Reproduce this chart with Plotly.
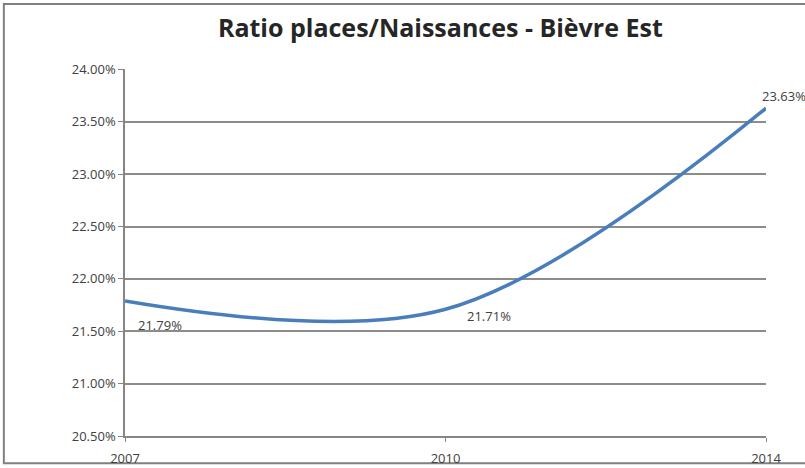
import plotly.graph_objects as go

years = ["2007", "2010", "2014"]
ratios = [21.79, 21.71, 23.63]
labels = ["21.79%", "21.71%", "23.63%"]
y_ticks = [20.5, 21.0, 21.5, 22.0, 22.5, 23.0, 23.5, 24.0]

FONT = "Open Sans, Liberation Sans, sans-serif"

fig = go.Figure()
fig.add_trace(go.Scatter(
    x=years, y=ratios, mode="lines",
    line=dict(color="#4A7EBB", width=3.5, shape="spline", smoothing=1.0),
    hoverinfo="skip", showlegend=False,
))

offsets = [(35, -24, "center"), (43, -7, "center"), (-6, 12, "left")]
for i, (y, t, (dx, dy, anc)) in enumerate(zip(ratios, labels, offsets)):
    fig.add_annotation(x=i, y=y, xref="x", yref="y", text=t, showarrow=False,
                       xshift=dx, yshift=dy, xanchor=anc,
                       font=dict(family=FONT, size=13, color="#404040"))

fig.update_layout(
    width=805, height=468,
    margin=dict(l=125, r=39, t=69, b=32, autoexpand=False),
    paper_bgcolor="white", plot_bgcolor="white",
    title=dict(text="<b>Ratio places/Naissances - Bièvre Est</b>", x=0.547, xanchor="center",
               y=0.94, yanchor="middle",
               font=dict(family=FONT, size=25, color="#262626")),
    font=dict(family=FONT, size=13, color="#404040"),
    xaxis=dict(type="category", range=[0, 2], showgrid=False, showline=True, automargin=False,
               linecolor="#868686", linewidth=1.5, ticks="outside", ticklen=4,
               tickcolor="#868686", ticklabelstandoff=6,
               tickfont=dict(family=FONT, size=13, color="#404040")),
    yaxis=dict(range=[20.5, 24.004], tickvals=y_ticks, automargin=False,
               ticktext=[f"{v:.2f}%" for v in y_ticks],
               showgrid=True, gridcolor="#8C8C8C", gridwidth=1.5,
               showline=True, linecolor="#868686", linewidth=1.5,
               ticks="outside", ticklen=5, tickcolor="#868686",
               zeroline=False, tickfont=dict(family=FONT, size=13, color="#404040")),
)

# page frame
fig.add_shape(type="rect", xref="paper", yref="paper", x0=-0.189, x1=1.2, y0=-0.074, y1=1.177,
              line=dict(color="#808080", width=2), fillcolor="rgba(0,0,0,0)", layer="below")

fig.write_html("out.html", config={"displayModeBar": False},
               post_script="document.body.style.margin='0px';")
